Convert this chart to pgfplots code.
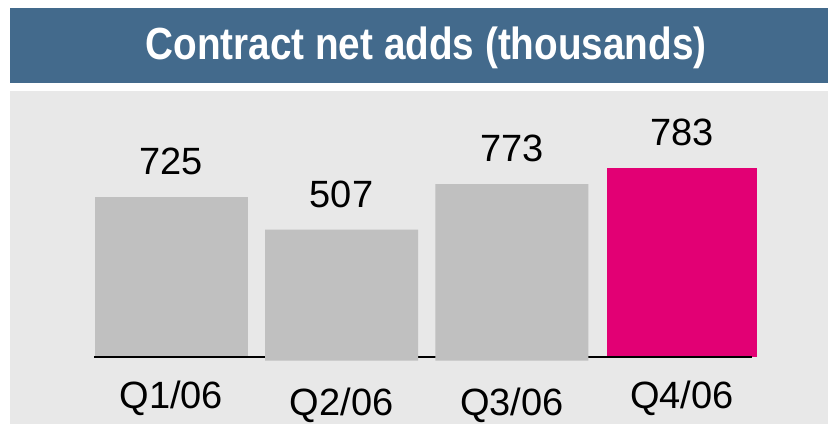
\documentclass[border=0pt]{standalone}
\usepackage{fontspec}
\setmainfont{Liberation Sans}
\usepackage{graphicx}
\usepackage{pgfplots}
\pgfplotsset{compat=1.18}

\definecolor{banner}{HTML}{436A8C}
\definecolor{panel}{HTML}{E8E8E8}
\definecolor{bargray}{HTML}{C0C0C0}
\definecolor{magenta}{HTML}{E20074}

\begin{document}
\begin{tikzpicture}
\begin{axis}[
    width=828pt, height=424pt,
    scale only axis,
    axis on top,
    xmin=-1.0063, xmax=3.8577,
    ymin=-67, ymax=357,
    axis line style={draw=none},
    major tick length=0pt,
    ytick=\empty,
    xtick={0,1,2,3},
    xticklabels={Q1/06, \raisebox{-7pt}{Q2/06}\hspace{12pt}, \raisebox{-7pt}{Q3/06}, Q4/06},
    xticklabel style={anchor=base, inner sep=0pt, yshift=16pt,
        font=\fontsize{38}{44}\selectfont},
    ybar, bar width=153pt, bar shift=0pt,
    point meta=explicit symbolic,
    nodes near coords,
    nodes near coords style={anchor=base, inner sep=0pt, yshift=22pt,
        font=\fontsize{38}{44}\selectfont, black},
]
% backgrounds
\fill[white] (rel axis cs:0,0) rectangle (rel axis cs:1,1);
\fill[banner] (rel axis cs:0.01208,0.9811) rectangle (rel axis cs:1,0.8042);
\fill[panel] (rel axis cs:0.01208,0.7854) rectangle (rel axis cs:1,0);
\node[anchor=base, inner sep=0pt, text=white,
      font=\fontsize{45}{54}\selectfont\bfseries]
  at (rel axis cs:0.5145,0.8585) {\scalebox{0.86}[1]{Contract net adds (thousands)}};

% Q1 and Q4 (behind the base line)
\addplot[fill=bargray, draw=none] coordinates {(0,160.3) [725]};
\addplot[fill=magenta, draw=none, bar width=150pt] coordinates {(3,189.0) [783]};

% base line
\draw[black, line width=2.5pt] (axis cs:-0.4541,0) -- (axis cs:3.4113,0);

% Q2 and Q3 (in front of the base line, reaching a little below it)
\addplot[fill=bargray, draw=none] coordinates {(1,127.3) [507] (2,173.0) [773]};
\addplot[fill=bargray, draw=none, nodes near coords={}] coordinates {(1,-3.5) [] (2,-3.5) []};
\end{axis}
\pgfresetboundingbox
\useasboundingbox (0,0) rectangle (828pt,424pt);
\end{tikzpicture}
\end{document}
